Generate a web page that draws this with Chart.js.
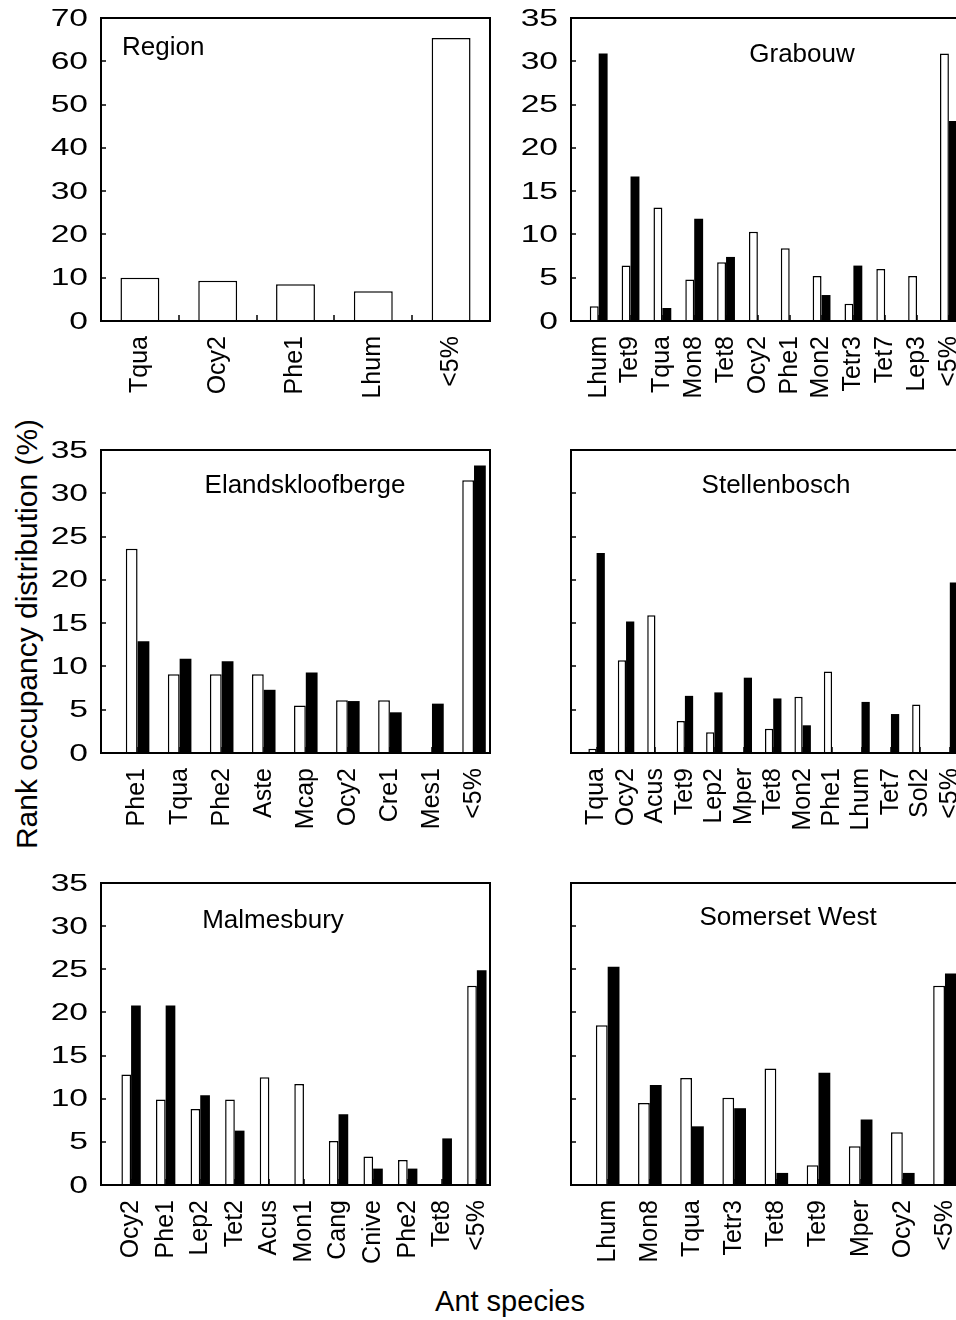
<!DOCTYPE html>
<html>
<head>
<meta charset="utf-8">
<script src="https://cdn.jsdelivr.net/npm/chart.js@4/dist/chart.umd.min.js"></script>
<style>
  html, body { margin: 0; padding: 0; overflow: hidden; background: #fff; }
  body { position: relative; width: 956px; height: 1320px; font-family: "Liberation Sans", Arial, Helvetica, sans-serif; color: #000; }
  canvas { position: absolute; }
  .axis-title { position: absolute; white-space: nowrap; }
  #ytitle { left: 27px; top: 634px; font-size: 30px; line-height: 30px; transform: translate(-50%, -50%) rotate(-90deg); }
  #xtitle { left: 510px; top: 1287px; font-size: 29px; line-height: 29px; transform: translateX(-50%); }
</style>
</head>
<body>
<div id="ytitle" class="axis-title">Rank occupancy distribution (%)</div>
<div id="xtitle" class="axis-title">Ant species</div>
<script>
// ---- data: rank occupancy (%) per ant species ----
const regionCats = ['Tqua', 'Ocy2', 'Phe1', 'Lhum', '<5%'];
const regionVals = [10.0, 9.3, 8.5, 6.9, 65.4];

const grabouwCats  = ['Lhum', 'Tet9', 'Tqua', 'Mon8', 'Tet8', 'Ocy2', 'Phe1', 'Mon2', 'Tetr3', 'Tet7', 'Lep3', '<5%'];
const grabouwOpen  = [1.7, 6.4, 13.1, 4.8, 6.8, 10.3, 8.4, 5.2, 2.0, 6.0, 5.2, 30.9];
const grabouwSolid = [30.9, 16.7, 1.5, 11.8, 7.4, 0, 0, 3.0, 6.4, 0, 0, 23.1];

const elandsCats  = ['Phe1', 'Tqua', 'Phe2', 'Aste', 'Mcap', 'Ocy2', 'Cre1', 'Mes1', '<5%'];
const elandsOpen  = [23.6, 9.1, 9.1, 9.1, 5.5, 6.1, 6.1, 0, 31.5];
const elandsSolid = [12.9, 10.9, 10.6, 7.3, 9.3, 6.0, 4.7, 5.7, 33.2];

const stellCats  = ['Tqua', 'Ocy2', 'Acus', 'Tet9', 'Lep2', 'Mper', 'Tet8', 'Mon2', 'Phe1', 'Lhum', 'Tet7', 'Sol2', '<5%'];
const stellOpen  = [0.5, 10.7, 15.9, 3.7, 2.4, 0, 2.8, 6.5, 9.4, 0, 0, 5.6, 0];
const stellSolid = [23.1, 15.2, 0, 6.6, 7.0, 8.7, 6.3, 3.2, 0, 5.9, 4.5, 0, 19.7];

const malmCats  = ['Ocy2', 'Phe1', 'Lep2', 'Tet2', 'Acus', 'Mon1', 'Cang', 'Cnive', 'Phe2', 'Tet8', '<5%'];
const malmOpen  = [12.8, 9.9, 8.8, 9.9, 12.5, 11.7, 5.1, 3.3, 2.9, 0, 23.1];
const malmSolid = [20.8, 20.8, 10.4, 6.3, 0, 0, 8.2, 1.9, 1.9, 5.4, 24.9];

const somCats  = ['Lhum', 'Mon8', 'Tqua', 'Tetr3', 'Tet8', 'Tet9', 'Mper', 'Ocy2', '<5%'];
const somOpen  = [18.5, 9.5, 12.4, 10.1, 13.5, 2.3, 4.5, 6.1, 23.1];
const somSolid = [25.3, 11.6, 6.8, 8.9, 1.4, 13.0, 7.6, 1.4, 24.5];

const yTicks70 = [0, 10, 20, 30, 40, 50, 60, 70];
const yTicks35 = [0, 5, 10, 15, 20, 25, 30, 35];

// ---- layout ----
const FONT = '"Liberation Sans", Arial, Helvetica, sans-serif';
const PL = 70, PT = 20, PR = 40, PB = 100;

const panels = [
  { title: 'Region', cats: regionCats, series: [regionVals], yTicks: yTicks70,
    left: 101, top: 18, w: 389, h: 303, showY: true,
    tx: 122, ty: 55, align: 'left' },
  { title: 'Grabouw', cats: grabouwCats, series: [grabouwOpen, grabouwSolid], yTicks: yTicks35,
    left: 571, top: 18, w: 390, h: 303, showY: true,
    tx: 802, ty: 62, align: 'center' },
  { title: 'Elandskloofberge', cats: elandsCats, series: [elandsOpen, elandsSolid], yTicks: yTicks35,
    left: 101, top: 450, w: 389, h: 303, showY: true,
    tx: 305, ty: 493, align: 'center' },
  { title: 'Stellenbosch', cats: stellCats, series: [stellOpen, stellSolid], yTicks: yTicks35,
    left: 571, top: 450, w: 390, h: 303, showY: false,
    tx: 776, ty: 493, align: 'center' },
  { title: 'Malmesbury', cats: malmCats, series: [malmOpen, malmSolid], yTicks: yTicks35,
    left: 101, top: 883, w: 389, h: 302, showY: true,
    tx: 273, ty: 928, align: 'center' },
  { title: 'Somerset West', cats: somCats, series: [somOpen, somSolid], yTicks: yTicks35,
    left: 571, top: 883, w: 390, h: 302, showY: false,
    tx: 788, ty: 925, align: 'center' }
];

function framePlugin(p, cx, cy) {
  const single = p.series.length === 1;
  return {
    id: 'frame',
    beforeDatasetsDraw(chart) {
      const { ctx, chartArea: a, scales } = chart;
      ctx.save();
      ctx.strokeStyle = '#000';
      ctx.lineWidth = 1.5;
      // inner tick marks on the category axis
      const marks = single ? p.cats.slice(1).map((c, i) => i + 0.5) : p.cats.map((c, i) => i);
      marks.forEach(v => {
        const px = Math.round(scales.x.getPixelForValue(v));
        ctx.beginPath();
        ctx.moveTo(px, a.bottom);
        ctx.lineTo(px, a.bottom - 6);
        ctx.stroke();
      });
      // inner tick marks on the value axis
      p.yTicks.forEach(v => {
        const py = Math.round(scales.y.getPixelForValue(v));
        ctx.beginPath();
        ctx.moveTo(a.left, py);
        ctx.lineTo(a.left + 5, py);
        ctx.stroke();
      });
      ctx.restore();
    },
    afterDatasetsDraw(chart) {
      const { ctx, chartArea: a, scales } = chart;
      ctx.save();
      ctx.strokeStyle = '#000';
      ctx.lineWidth = 2;
      ctx.strokeRect(a.left, a.top, a.right - a.left, a.bottom - a.top);
      ctx.fillStyle = '#000';
      // panel title
      ctx.font = '26px ' + FONT;
      ctx.textAlign = p.align;
      ctx.textBaseline = 'alphabetic';
      ctx.fillText(p.title, p.tx - cx, p.ty - cy);
      // value-axis labels, set in a wide face
      if (p.showY) {
        const ys = scales.y;
        ctx.font = '24px ' + FONT;
        ctx.textAlign = 'right';
        ctx.textBaseline = 'middle';
        ys.ticks.forEach(t => {
          const py = ys.getPixelForValue(t.value);
          ctx.save();
          ctx.translate(a.left - 13, py + 1);
          ctx.scale(1.4, 1);
          ctx.fillText(t.label != null ? String(t.label) : String(t.value), 0, 0);
          ctx.restore();
        });
      }
      ctx.restore();
    }
  };
}

panels.forEach(p => {
  const canvas = document.createElement('canvas');
  const cx = p.left - PL, cy = p.top - PT;
  canvas.width = p.w + PL + PR;
  canvas.height = p.h + PT + PB;
  canvas.style.left = cx + 'px';
  canvas.style.top = cy + 'px';
  document.body.appendChild(canvas);

  const single = p.series.length === 1;
  const n = p.cats.length;
  const datasets = p.series.map((vals, k) => ({
    data: vals.map((v, i) => ({ x: i, y: v })),
    backgroundColor: k === 0 ? '#ffffff' : '#000000',
    borderColor: '#000000',
    borderWidth: k === 0 ? 1.5 : 0,
    barPercentage: 1,
    categoryPercentage: single ? 0.5 : 0.56
  }));

  new Chart(canvas, {
    type: 'bar',
    data: { datasets },
    options: {
      responsive: false,
      animation: false,
      devicePixelRatio: 1,
      layout: { padding: { left: 0, top: PT, right: PR, bottom: 0 } },
      plugins: { legend: { display: false }, tooltip: { enabled: false } },
      scales: {
        x: {
          type: 'linear',
          min: single ? -0.5 : -0.87,
          max: single ? n - 0.5 : n - 0.62,
          offset: false,
          grid: { display: false, drawTicks: false },
          border: { display: false },
          afterBuildTicks: s => { s.ticks = p.cats.map((c, i) => ({ value: i })); },
          afterFit: s => { s.height = PB; },
          ticks: {
            autoSkip: false, maxRotation: 90, minRotation: 90, padding: 15,
            color: '#000', font: { family: FONT, size: 25 },
            callback: (v, i) => p.cats[i]
          }
        },
        y: {
          min: 0,
          max: p.yTicks[p.yTicks.length - 1],
          grid: { display: false, drawTicks: false },
          border: { display: false },
          afterBuildTicks: s => { s.ticks = p.yTicks.map(v => ({ value: v })); },
          afterFit: s => { s.width = PL; },
          ticks: { display: false }
        }
      }
    },
    plugins: [framePlugin(p, cx, cy)]
  });
});
</script>
</body>
</html>
